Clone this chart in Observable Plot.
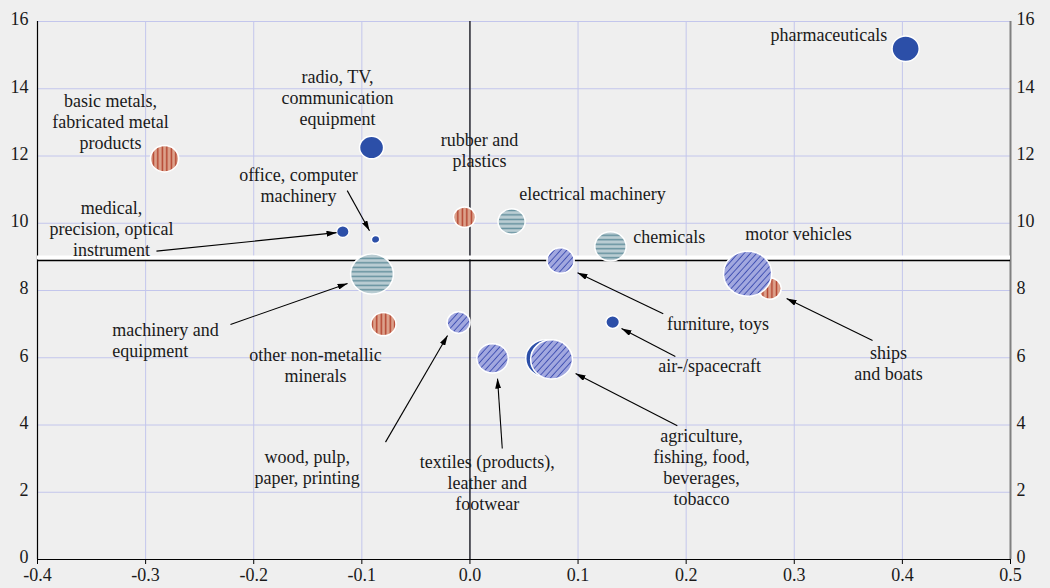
<!DOCTYPE html>
<html><head><meta charset="utf-8">
<script src="https://cdn.jsdelivr.net/npm/d3@7"></script>
<script src="https://cdn.jsdelivr.net/npm/@observablehq/plot@0.6"></script>
<style>
html,body{margin:0;padding:0;background:#efefef;}
#chart{width:1050px;height:588px;}
</style></head><body>
<div id="chart"></div>
<script>
// ---------- data ----------
const sectors = ["", "pharmaceuticals", "radio, TV, communication equipment", "medical, precision, optical instrument",
  "office, computer machinery", "air-/spacecraft", "basic metals, fabricated metal products", "rubber and plastics",
  "other non-metallic minerals", "ships and boats", "electrical machinery", "chemicals", "machinery and equipment",
  "furniture, toys", "wood, pulp, paper, printing", "textiles (products), leather and footwear",
  "agriculture, fishing, food, beverages, tobacco", "motor vehicles"];
const xValues = [0.070, 0.403, -0.091, -0.1176, -0.0873, 0.132, -0.2825, -0.005, -0.080, 0.2772, 0.0385, 0.130, -0.0906, 0.0838, -0.0105, 0.0209, 0.0755, 0.2568];
const yValues = [5.98, 15.19, 12.25, 9.75, 9.52, 7.06, 11.92, 10.18, 7.0, 8.06, 10.05, 9.31, 8.49, 8.89, 7.05, 5.98, 5.95, 8.50];
const sizes   = [6.8, 3.19, 2.5, 0.68, 0.30, 0.80, 3.44, 2.08, 2.72, 2.29, 3.19, 4.25, 7.94, 3.19, 2.29, 4.25, 7.56, 10];
const groups  = ["high", "high", "high", "high", "high", "high", "medlow", "medlow", "medlow", "medlow",
  "medhigh", "medhigh", "medhigh", "low", "low", "low", "low", "low"];

const labelText = ["pharmaceuticals", "radio, TV,\ncommunication\nequipment", "basic metals,\nfabricated metal\nproducts",
  "medical,\nprecision, optical\ninstrument", "office, computer\nmachinery", "rubber and\nplastics", "electrical machinery",
  "chemicals", "motor vehicles", "furniture, toys", "machinery and\nequipment", "other non-metallic\nminerals",
  "air-/spacecraft", "ships\nand boats", "wood, pulp,\npaper, printing", "textiles (products),\nleather and\nfootwear",
  "agriculture,\nfishing, food,\nbeverages,\ntobacco"];
const labelX = [0.332, -0.1225, -0.3325, -0.3316, -0.1586, 0.0089, 0.1134, 0.151, 0.304, 0.2295, -0.3309, -0.1428, 0.2217, 0.3872, -0.1505, 0.016, 0.2142];
const labelY = [15.61, 13.74, 13.02, 9.84, 11.14, 12.18, 10.88, 9.61, 9.69, 7.02, 6.53, 5.78, 5.77, 5.86, 2.76, 2.29, 2.77];
const labelAlign = ["middle","middle","middle","middle","middle","middle","middle","start","middle","middle","start","middle","middle","middle","middle","middle","middle"];

const arrowX1 = [-0.290, -0.1135, -0.2215, 0.1788, 0.190, 0.3724, -0.0781, 0.0299, 0.1918];
const arrowY1 = [9.17, 10.97, 6.99, 7.31, 6.04, 6.51, 3.49, 3.30, 3.98];
const arrowX2 = [-0.1234, -0.0929, -0.1132, 0.0995, 0.1402, 0.2929, -0.0207, 0.0255, 0.0977];
const arrowY2 = [9.72, 9.78, 8.21, 8.53, 6.87, 7.76, 6.66, 5.38, 5.53];

const xTicks = [-0.4, -0.3, -0.2, -0.1, 0.0, 0.1, 0.2, 0.3, 0.4, 0.5];
const yTicks = [0, 2, 4, 6, 8, 10, 12, 14, 16];
const divider = 8.89;

// ---------- tables ----------
const points = sectors.map((s, i) => ({sector: s, x: xValues[i], y: yValues[i], size: sizes[i], group: groups[i]}));
const labels = labelText.map((t, i) => ({text: t, x: labelX[i], y: labelY[i], align: labelAlign[i]}));
const arrows = arrowX1.map((v, i) => ({x1: v, y1: arrowY1[i], x2: arrowX2[i], y2: arrowY2[i]}));

const groupFill = {high: "#2c4fa8", medlow: "url(#pRed)", medhigh: "url(#pTeal)", low: "url(#pHatch)"};

const ellipse = {
  draw(ctx, size) {
    const r = Math.sqrt(size / Math.PI), rx = r * 1.07, ry = r, k = 0.5522848;
    ctx.moveTo(rx, 0);
    ctx.bezierCurveTo(rx, ry * k, rx * k, ry, 0, ry);
    ctx.bezierCurveTo(-rx * k, ry, -rx, ry * k, -rx, 0);
    ctx.bezierCurveTo(-rx, -ry * k, -rx * k, -ry, 0, -ry);
    ctx.bezierCurveTo(rx * k, -ry, rx, -ry * k, rx, 0);
    ctx.closePath();
  }
};

const gridColor = "#c3c6ec";
const dotMarks = ["high", "medlow", "medhigh", "low"].map(g =>
  Plot.dot(points.filter(d => d.group === g), {x: "x", y: "y", r: "size", symbol: ellipse,
    fill: groupFill[g], stroke: "white", strokeWidth: 1.5}));

const svg = Plot.plot({
  width: 1050, height: 588,
  marginLeft: 37, marginRight: 40, marginTop: 21, marginBottom: 29,
  style: {background: "#efefef", fontFamily: "'Liberation Serif', 'Times New Roman', serif", fontSize: "18px", color: "#1a1a1a"},
  x: {domain: [-0.4, 0.5]},
  y: {domain: [0, 16]},
  r: {type: "sqrt", domain: [0, 10], range: [0, 22.5]},
  marks: [
    Plot.gridX(xTicks, {stroke: gridColor, strokeOpacity: 1}),
    Plot.gridY(yTicks, {stroke: gridColor, strokeOpacity: 1}),
    Plot.ruleX([0], {stroke: "#000", strokeWidth: 1.2}),
    Plot.ruleX([-0.4], {stroke: "#000", strokeWidth: 1.2}),
    Plot.ruleX([0.5], {stroke: "#808080", strokeWidth: 2}),
    Plot.ruleY([0], {stroke: "#000", strokeWidth: 1.2}),
    Plot.axisX(xTicks, {tickSize: 5, tickPadding: 4, tickFormat: d => d.toFixed(1), label: null, stroke: "#000"}),
    Plot.axisY(yTicks, {anchor: "left", tickSize: 0, tickPadding: 9, dy: -2, label: null}),
    Plot.axisY(yTicks, {anchor: "right", tickSize: 0, tickPadding: 6, dy: -2, label: null}),
    Plot.ruleY([divider], {stroke: "white", strokeWidth: 4, dy: -3}),
    Plot.ruleY([divider], {stroke: "#000", strokeWidth: 1.5}),
    ...dotMarks,
    Plot.link(arrows, {x1: "x1", y1: "y1", x2: "x2", y2: "y2", stroke: "#000", strokeWidth: 1.1}),
    Plot.text(labels.filter(d => d.align === "middle"), {x: "x", y: "y", text: "text", textAnchor: "middle", lineAnchor: "middle", lineHeight: 1.167, fill: "#1a1a1a"}),
    Plot.text(labels.filter(d => d.align === "start"), {x: "x", y: "y", text: "text", textAnchor: "start", lineAnchor: "middle", lineHeight: 1.167, fill: "#1a1a1a"})
  ]
});

const defs = document.createElementNS("http://www.w3.org/2000/svg", "defs");
defs.innerHTML = `
 <pattern id="pRed" patternUnits="userSpaceOnUse" width="4.5" height="4.5">
   <rect width="4.5" height="4.5" fill="#dca18b"/>
   <rect x="1.6" width="1.4" height="4.5" fill="#b23f2a"/>
 </pattern>
 <pattern id="pTeal" patternUnits="userSpaceOnUse" width="4.5" height="4.5">
   <rect width="4.5" height="4.5" fill="#bacdd3"/>
   <rect y="1.6" width="4.5" height="1.4" fill="#5f8d9a"/>
 </pattern>
 <pattern id="pHatch" patternUnits="userSpaceOnUse" width="4.6" height="4.6" patternTransform="rotate(42)">
   <rect width="4.6" height="4.6" fill="#a2a8df"/>
   <rect x="1.8" width="0.9" height="4.6" fill="#3a4bb0"/>
 </pattern>
 <marker id="arrowHead" viewBox="0 0 10 6" refX="10" refY="3" markerWidth="10" markerHeight="6" markerUnits="userSpaceOnUse" orient="auto">
   <path d="M0,0L10,3L0,6Z" fill="#000"/>
 </marker>`;
svg.insertBefore(defs, svg.firstChild);
svg.querySelectorAll('g[aria-label="link"] path').forEach(p => p.setAttribute("marker-end", "url(#arrowHead)"));
document.getElementById("chart").appendChild(svg);
</script>
</body></html>
